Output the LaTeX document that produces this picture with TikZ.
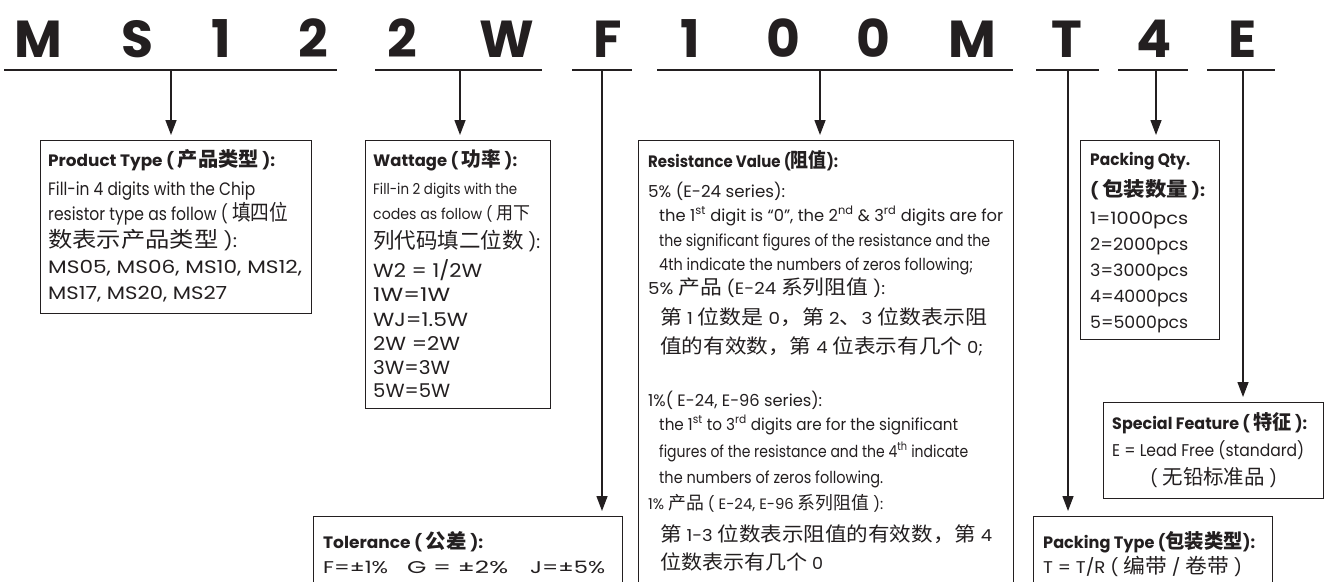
\documentclass[tikz,border=0pt]{standalone}
\usepackage{fontspec}
\usepackage{graphicx}
\setmainfont{Poppins}
\newfontfamily\cjk{Noto Sans CJK SC}[Scale=1.2]
\usetikzlibrary{arrows.meta}
\definecolor{ink}{HTML}{231F20}
\newcommand\fitw[2]{\resizebox{#1pt}{\height}{#2}}
\tikzset{
  box/.style={draw=ink, line width=1.2pt, anchor=north west, inner sep=0, minimum width=#1},
  ul/.style={draw=ink, line width=2pt},
  arr/.style={draw=ink, line width=1.4pt, -{Triangle[length=15pt,width=11pt]}, shorten >=5pt},
  big/.style={font=\fontsize{52}{52}\selectfont\bfseries, text=ink, anchor=base, inner sep=0},
  ttl/.style={font=\fontsize{16.5}{18}\selectfont\bfseries, text=ink, anchor=base west, inner sep=0},
  txt/.style={font=\fontsize{#1}{18}\selectfont, text=ink, anchor=base west, inner sep=0},
  txt/.default=17,
}
\begin{document}
\begin{tikzpicture}[x=1pt,y=-1pt]
\useasboundingbox (0,0) rectangle (1327,581);
\clip (0,0) rectangle (1327,581);
\fill[white] (0,0) rectangle (1327,581);
% big code letters
\node[big] (c1) at (38,57) {M};
\node[big] (c2) at (137,57) {S};
\node[big] (c3) at (221,57) {1};
\node[big] (c4) at (313,57) {2};
\node[big] (c5) at (402,57) {2};
\node[big] (c6) at (507,57) {W};
\node[big] (c7) at (608,57) {F};
\node[big] (c8) at (690,57) {1};
\node[big] (c9) at (783,57) {0};
\node[big] (c10) at (873,57) {0};
\node[big] (c11) at (972,57) {M};
\node[big] (c12) at (1067,57) {T};
\node[big] (c13) at (1154,57) {4};
\node[big] (c14) at (1243,57) {E};
% underlines
\draw[ul] (4,70) -- (337,70);
\draw[ul] (375,70) -- (542,70);
\draw[ul] (572,70) -- (632,70);
\draw[ul] (657,70) -- (1013,70);
\draw[ul] (1036,70) -- (1099,70);
\draw[ul] (1118,70) -- (1188,70);
\draw[ul] (1207,70) -- (1275,70);
% tick points
\coordinate (t1) at (171,70);
\coordinate (t2) at (460,70);
\coordinate (t3) at (602,70);
\coordinate (t4) at (820,70);
\coordinate (t5) at (1068,70);
\coordinate (t6) at (1156,70);
\coordinate (t7) at (1243,70);
% boxes
\node[box=271, minimum height=173] (ptype) at (40,140) {};
\node[box=185, minimum height=268] (watt) at (365,140) {};
\node[box=375, minimum height=470] (resv) at (638,140) {};
\node[box=139, minimum height=199] (pqty) at (1080,140) {};
\node[box=220, minimum height=96] (spec) at (1103,402) {};
\node[box=309, minimum height=90] (tol) at (313,516) {};
\node[box=239, minimum height=90] (ptyp) at (1033,516) {};
% arrows
\draw[arr] (t1) -- (t1 |- ptype.north);
\draw[arr] (t2) -- (t2 |- watt.north);
\draw[arr] (t3) -- (t3 |- tol.north);
\draw[arr] (t4) -- (t4 |- resv.north);
\draw[arr] (t5) -- (t5 |- ptyp.north);
\draw[arr] (t6) -- (t6 |- pqty.north);
\draw[arr] (t7) -- (t7 |- spec.north);
% Product type
\node[ttl] (p0) at (48,166) {\fitw{227}{Product Type ( {\cjk 产品类型} ):}};
\node[txt=18] (p1) at (48,195) {\fitw{207}{Fill-in 4 digits with the Chip}};
\node[txt=18] (p2) at (48,220) {\fitw{240}{resistor type as follow ( {\cjk 填四位}}};
\node[txt=18] (p3) at (48,247) {\fitw{189}{{\cjk 数表示产品类型} ):}};
\node[txt=18] (p4) at (48,273) {\fitw{254}{MS05, MS06, MS10, MS12,}};
\node[txt=18] (p5) at (48,299) {\fitw{179}{MS17, MS20, MS27}};
% Wattage
\node[ttl] (w0) at (373,166) {\fitw{144}{Wattage ( {\cjk 功率} ):}};
\node[txt=15] (w1) at (373,194) {\fitw{144}{Fill-in 2 digits with the}};
\node[txt=15] (w2) at (373,219) {\fitw{157}{codes as follow ( {\cjk 用下}}};
\node[txt=18] (w3) at (373,248) {\fitw{167}{{\cjk 列代码填二位数} ):}};
\node[txt=19] (w4) at (373,277) {\fitw{109}{W2 = 1/2W}};
\node[txt=19] (w5) at (373,301) {\fitw{77}{1W=1W}};
\node[txt=19] (w6) at (373,326) {\fitw{95}{WJ=1.5W}};
\node[txt=19] (w7) at (373,350) {\fitw{87}{2W =2W}};
\node[txt=19] (w8) at (373,374) {\fitw{77}{3W=3W}};
\node[txt=19] (w9) at (373,397) {\fitw{77}{5W=5W}};
% Resistance value
\node[ttl] (r0) at (648,167) {\fitw{190}{Resistance Value ({\cjk 阻值}):}};
\node[txt=16.5] (r1) at (648,197) {\fitw{137}{5\% (E-24 series):}};
\node[txt=16.5] (r2) at (659,221) {\fitw{344}{the 1\textsuperscript{st} digit is “0”, the 2\textsuperscript{nd} \& 3\textsuperscript{rd} digits are for}};
\node[txt=16.5] (r3) at (659,246) {\fitw{331}{the significant figures of the resistance and the}};
\node[txt=16.5] (r4) at (659,270) {\fitw{314}{4th indicate the numbers of zeros following;}};
\node[txt=16.5] (r5) at (648,294) {\fitw{237}{5\% {\cjk 产品} (E-24 {\cjk 系列阻值} ):}};
\node[txt=16.5] (r6) at (660,324) {\fitw{327}{{\cjk 第} 1 {\cjk 位数是} 0{\cjk ，第} 2{\cjk 、}3 {\cjk 位数表示阻}}};
\node[txt=16.5] (r7) at (660,353) {\fitw{323}{{\cjk 值的有效数，第} 4 {\cjk 位表示有几个} 0;}};
\node[txt=16.5] (r8) at (648,406) {\fitw{174}{1\%( E-24, E-96 series):}};
\node[txt=16.5] (r9) at (659,430) {\fitw{299}{the 1\textsuperscript{st} to 3\textsuperscript{rd} digits are for the significant}};
\node[txt=16.5] (r10) at (659,457) {\fitw{309}{figures of the resistance and the 4\textsuperscript{th} indicate}};
\node[txt=16.5] (r11) at (659,483) {\fitw{224}{the numbers of zeros following.}};
\node[txt=15] (r12) at (648,509) {\fitw{235}{1\% {\cjk 产品} ( E-24, E-96 {\cjk 系列阻值} ):}};
\node[txt=16.5] (r13) at (660,541) {\fitw{332}{{\cjk 第} 1-3 {\cjk 位数表示阻值的有效数，第} 4}};
\node[txt=16.5] (r14) at (660,569) {\fitw{163}{{\cjk 位数表示有几个} 0}};
% Packing qty
\node[ttl] (q0) at (1090,165) {\fitw{100}{Packing Qty.}};
\node[ttl] (q1) at (1090,196) {\fitw{115}{( {\cjk 包装数量} ):}};
\node[txt] (q2) at (1090,224) {\fitw{98}{1=1000pcs}};
\node[txt] (q3) at (1090,250) {\fitw{98}{2=2000pcs}};
\node[txt] (q4) at (1090,276) {\fitw{98}{3=3000pcs}};
\node[txt] (q5) at (1090,302) {\fitw{98}{4=4000pcs}};
\node[txt] (q6) at (1090,328) {\fitw{98}{5=5000pcs}};
% Special feature
\node[ttl] (s0) at (1112,429) {\fitw{195}{Special Feature ( {\cjk 特征} ):}};
\node[txt] (s1) at (1112,456) {\fitw{192}{E = Lead Free (standard)}};
\node[txt] (s2) at (1150,484) {\fitw{127}{( {\cjk 无铅标准品} )}};
% Tolerance
\node[ttl] (o0) at (323,548) {\fitw{160}{Tolerance ( {\cjk 公差} ):}};
\node[txt] (o1) at (323,573) {\fitw{65}{F=±1\%}};
\node[txt] (o2) at (407,573) {\fitw{101}{G = ±2\%}};
\node[txt] (o3) at (530,573) {\fitw{75}{J=±5\%}};
% Packing type
\node[ttl] (y0) at (1043,548) {\fitw{212}{Packing Type ({\cjk 包装类型}):}};
\node[txt] (y1) at (1043,573) {\fitw{199}{T = T/R ( {\cjk 编带} / {\cjk 卷带} )}};
\end{tikzpicture}
\end{document}
